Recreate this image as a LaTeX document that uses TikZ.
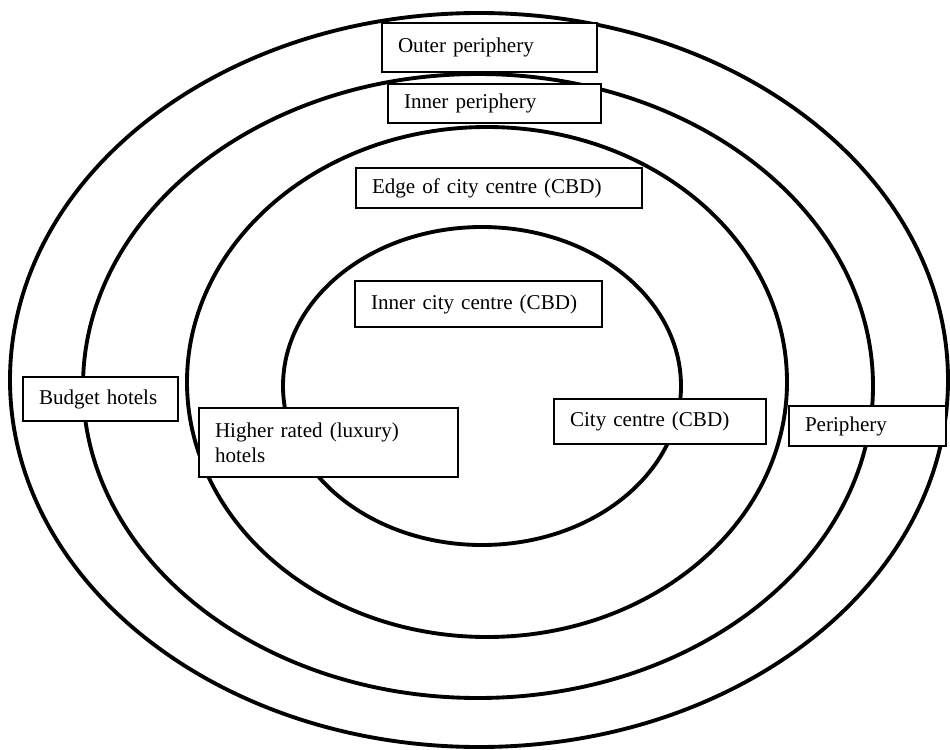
\documentclass[tikz,border=0pt]{standalone}
\usepackage{fontspec}
\setmainfont{Liberation Serif}
\begin{document}
\begin{tikzpicture}[x=0.02cm,y=-0.02cm]
    \tikzstyle{ring}=[line width=2.2pt]
    \tikzstyle{zonebox}=[draw, fill=white, line width=0.8pt, inner xsep=0.32cm, inner ysep=0pt, align=left, font=\fontsize{12}{14}\selectfont]
    \useasboundingbox (0,0) rectangle (950,750);
    \draw[ring] (479,380) ellipse [x radius=469, y radius=367];
    \draw[ring] (478,386) ellipse [x radius=395, y radius=312];
    \draw[ring] (487,382) ellipse [x radius=300, y radius=255];
    \draw[ring] (482,386) ellipse [x radius=199, y radius=159];
    \node[zonebox, text width=3.66cm, minimum height=0.98cm] (outer) at (489.5,47.5){Outer periphery};
    \node[zonebox, text width=3.62cm, minimum height=0.78cm] (innerp) at (494.5,103.5){Inner periphery};
    \node[zonebox, text width=5.08cm, minimum height=0.80cm] (edge) at (499,188){Edge of city centre (CBD)};
    \node[zonebox, text width=4.30cm, minimum height=0.92cm] (innerc) at (478.5,304){Inner city centre (CBD)};
    \node[zonebox, text width=2.46cm, minimum height=0.88cm] (budget) at (100.5,399){Budget hotels};
    \node[zonebox, text width=4.54cm, minimum height=1.38cm] (luxury) at (328.5,442.5){Higher rated (luxury)\\hotels};
    \node[zonebox, text width=3.60cm, minimum height=0.90cm] (centre) at (660,421.5){City centre (CBD)};
    \node[zonebox, text width=2.50cm, minimum height=0.80cm] (periph) at (867.5,426){Periphery};
  \end{tikzpicture}
\end{document}
